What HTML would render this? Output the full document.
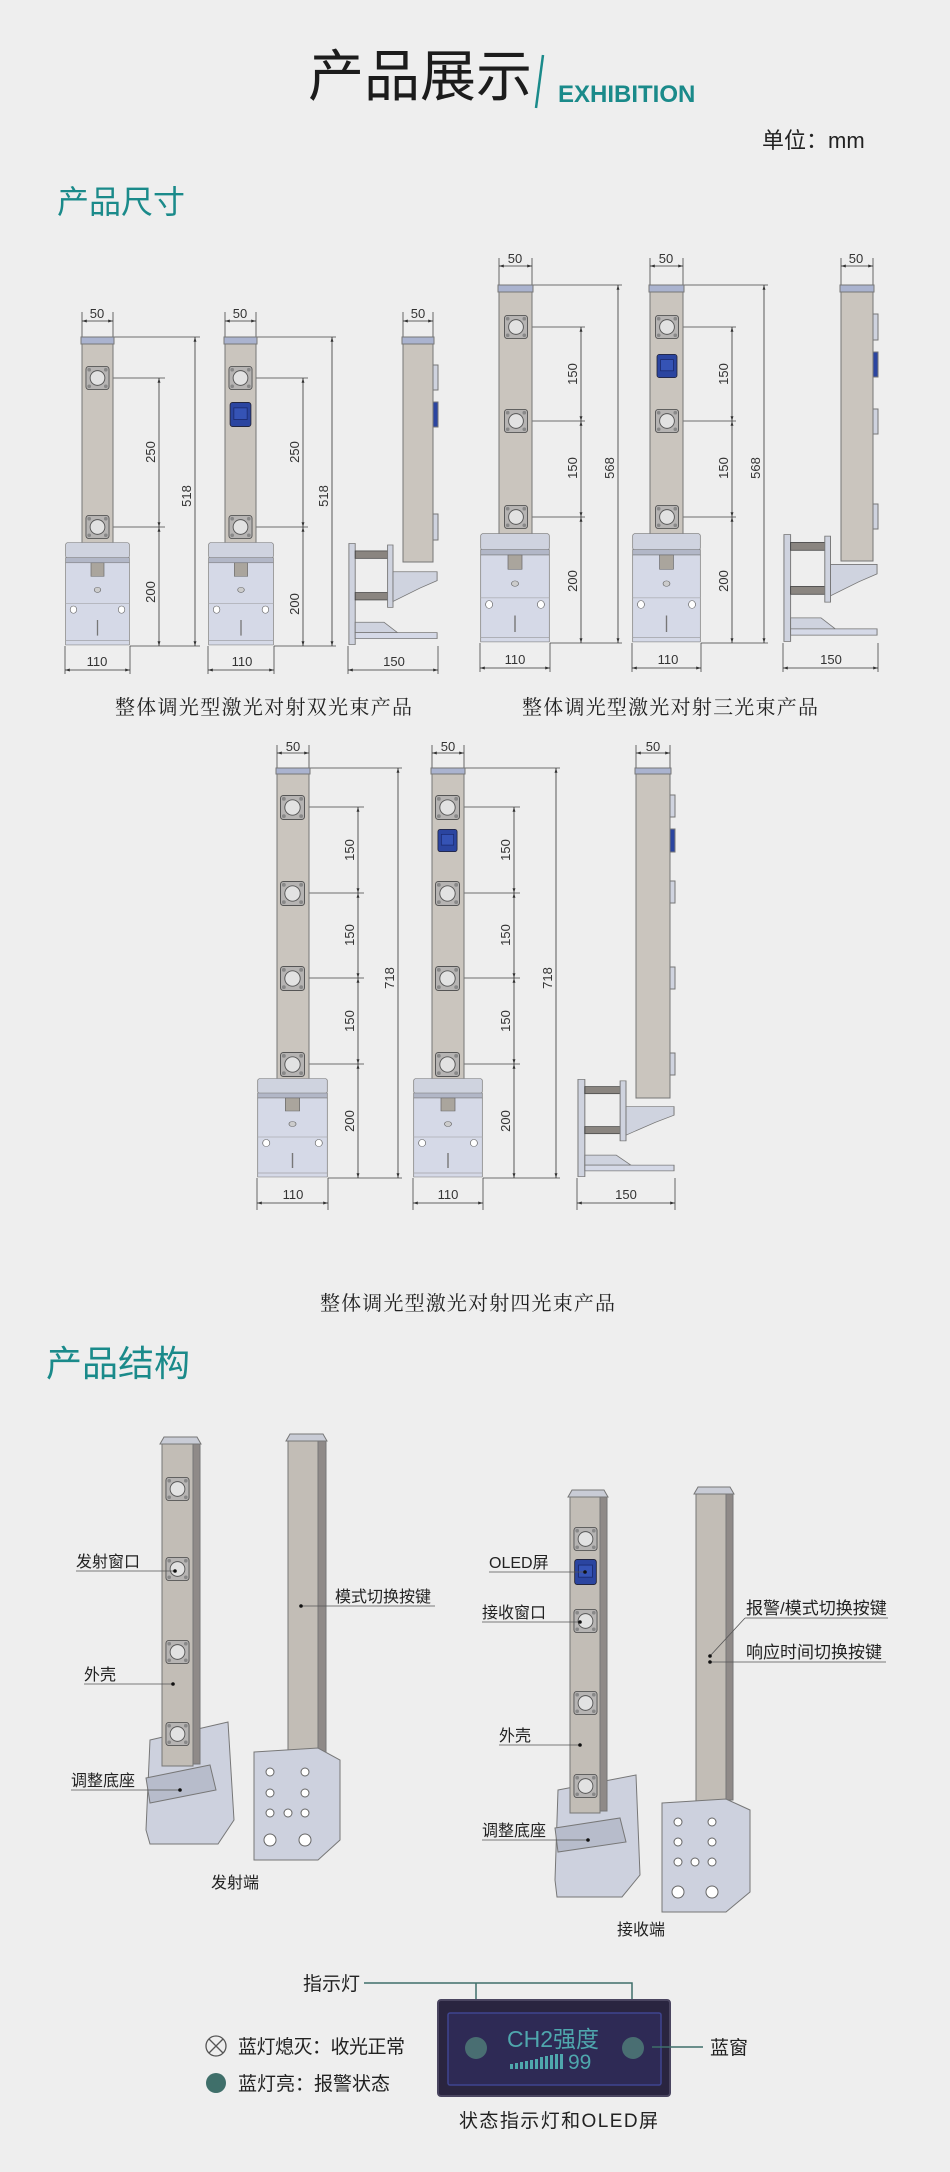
<!DOCTYPE html>
<html><head><meta charset="utf-8"><style>
html,body{margin:0;padding:0;background:#eeeeee;}
svg{display:block;}
text{font-family:"Liberation Sans","Noto Sans CJK SC",sans-serif;}
.d{font-size:13px;fill:#333;}
.cap{font-family:"Liberation Serif","Noto Serif CJK SC",serif;font-size:20px;fill:#222;}
.lb{font-size:16px;fill:#222;}
</style></head><body>
<svg width="950" height="2172" viewBox="0 0 950 2172" xmlns="http://www.w3.org/2000/svg">
<defs>
<symbol id="win" viewBox="0 0 26 26" overflow="visible">
<rect x="0.5" y="0.5" width="25" height="25" rx="3" fill="#b6b4b3" stroke="#555"/>
<circle cx="13" cy="13" r="8" fill="#e2e2e2" stroke="#555"/>
<circle cx="4" cy="4" r="2" fill="#888"/><circle cx="22" cy="4" r="2" fill="#888"/>
<circle cx="4" cy="22" r="2" fill="#888"/><circle cx="22" cy="22" r="2" fill="#888"/>
</symbol>
<symbol id="blue" viewBox="0 0 26 30">
<rect x="0.5" y="0.5" width="25" height="29" rx="3" fill="#2b45a0" stroke="#223"/>
<rect x="5" y="7" width="16" height="14" fill="#3553b5" stroke="#1b2b70"/>
</symbol>
<symbol id="base" viewBox="0 0 100 200" preserveAspectRatio="none">
<rect x="1" y="1" width="98" height="30" rx="4" fill="#cfd3df" stroke="#777"/>
<rect x="1" y="30" width="98" height="10" fill="#b2b7c7" stroke="#777"/>
<rect x="1" y="40" width="98" height="158" fill="#d5d9e7" stroke="#777"/>
<rect x="40" y="40" width="20" height="26" fill="#aaa59d" stroke="#666"/>
<circle cx="50" cy="92" r="5" fill="#ccc" stroke="#666"/>
<line x1="1" y1="118" x2="99" y2="118" stroke="#999"/>
<ellipse cx="13" cy="130" rx="5" ry="7" fill="#fff" stroke="#666"/>
<ellipse cx="87" cy="130" rx="5" ry="7" fill="#fff" stroke="#666"/>
<line x1="50" y1="150" x2="50" y2="180" stroke="#777" stroke-width="2"/>
<line x1="1" y1="190" x2="99" y2="190" stroke="#888"/>
</symbol>
<symbol id="brk" viewBox="0 0 100 140" preserveAspectRatio="none">
<rect x="1" y="2" width="7" height="136" fill="#cfd3df" stroke="#777"/>
<rect x="8" y="12" width="40" height="10" fill="#8a8580" stroke="#444"/>
<rect x="8" y="68" width="40" height="10" fill="#8a8580" stroke="#444"/>
<rect x="44" y="4" width="6" height="84" fill="#cfd3df" stroke="#777"/>
<polygon points="50,40 99,40 99,52 80,62 50,80" fill="#cfd3df" stroke="#777"/>
<polygon points="8,108 40,108 55,122 8,122" fill="#cfd3df" stroke="#777"/>
<rect x="8" y="122" width="91" height="8" fill="#d5d9e7" stroke="#777"/>
</symbol>
<marker id="ar" viewBox="0 0 10 10" refX="10" refY="5" markerWidth="6" markerHeight="6" orient="auto-start-reverse"><path d="M0,2 L10,5 L0,8z" fill="#333"/></marker>
</defs>

<!-- header -->
<text x="308" y="96" font-size="56" fill="#1c1c1c">产品展示</text>
<line x1="543" y1="55" x2="536" y2="108" stroke="#1a8a8a" stroke-width="2.5"/>
<text x="558" y="102" font-size="24" font-weight="bold" fill="#1a8a8a">EXHIBITION</text>
<text x="762" y="148" font-size="22" fill="#222">单位：mm</text>
<text x="57" y="213" font-size="32" fill="#1a8a8a">产品尺寸</text>

<g stroke="#444" stroke-width="0.8" fill="none">
<path d="M82,312V337M113,312V337M65,646V674M130,646V674M113,337H200M113,378H165M113,527H165M130,646H200"/>
<path d="M225,312V337M256,312V337M208,646V674M274,646V674M256,337H336M256,378H308M256,527H308M274,646H336"/>
<path d="M403,312V337M433,312V337M348,646V674M438,646V674"/>
<path d="M499,258V285M532,258V285M480,643V672M550,643V672M532,285H622M532,327H585M532,421H585M532,517H585M550,643H622"/>
<path d="M650,258V285M683,258V285M632,643V672M701,643V672M683,285H768M683,327H736M683,421H736M683,517H736M701,643H768"/>
<path d="M841,258V285M873,258V285M783,643V672M878,643V672"/>
<path d="M277,745V768M309,745V768M257,1178V1210M328,1178V1210M309,768H402M309,807H364M309,893H364M309,978H364M309,1064H364M328,1178H402"/>
<path d="M432,745V768M464,745V768M413,1178V1210M483,1178V1210M464,768H560M464,807H520M464,893H520M464,978H520M464,1064H520M483,1178H560"/>
<path d="M636,745V768M670,745V768M577,1178V1210M675,1178V1210"/>
</g>
<g stroke="#333" stroke-width="0.8" marker-start="url(#ar)" marker-end="url(#ar)">
<line x1="82" y1="321" x2="113" y2="321"/><line x1="65" y1="670" x2="130" y2="670"/>
<line x1="159" y1="378" x2="159" y2="527"/><line x1="159" y1="527" x2="159" y2="646"/><line x1="195" y1="337" x2="195" y2="646"/>
<line x1="225" y1="321" x2="256" y2="321"/><line x1="208" y1="670" x2="274" y2="670"/>
<line x1="303" y1="378" x2="303" y2="527"/><line x1="303" y1="527" x2="303" y2="646"/><line x1="332" y1="337" x2="332" y2="646"/>
<line x1="403" y1="321" x2="433" y2="321"/><line x1="348" y1="670" x2="438" y2="670"/>
<line x1="499" y1="266" x2="532" y2="266"/><line x1="480" y1="668" x2="550" y2="668"/>
<line x1="581" y1="327" x2="581" y2="421"/><line x1="581" y1="421" x2="581" y2="517"/><line x1="581" y1="517" x2="581" y2="643"/><line x1="618" y1="285" x2="618" y2="643"/>
<line x1="650" y1="266" x2="683" y2="266"/><line x1="632" y1="668" x2="701" y2="668"/>
<line x1="732" y1="327" x2="732" y2="421"/><line x1="732" y1="421" x2="732" y2="517"/><line x1="732" y1="517" x2="732" y2="643"/><line x1="764" y1="285" x2="764" y2="643"/>
<line x1="841" y1="266" x2="873" y2="266"/><line x1="783" y1="668" x2="878" y2="668"/>
<line x1="277" y1="753" x2="309" y2="753"/><line x1="257" y1="1203" x2="328" y2="1203"/>
<line x1="358" y1="807" x2="358" y2="893"/><line x1="358" y1="893" x2="358" y2="978"/><line x1="358" y1="978" x2="358" y2="1064"/><line x1="358" y1="1064" x2="358" y2="1178"/><line x1="398" y1="768" x2="398" y2="1178"/>
<line x1="432" y1="753" x2="464" y2="753"/><line x1="413" y1="1203" x2="483" y2="1203"/>
<line x1="514" y1="807" x2="514" y2="893"/><line x1="514" y1="893" x2="514" y2="978"/><line x1="514" y1="978" x2="514" y2="1064"/><line x1="514" y1="1064" x2="514" y2="1178"/><line x1="556" y1="768" x2="556" y2="1178"/>
<line x1="636" y1="753" x2="670" y2="753"/><line x1="577" y1="1203" x2="675" y2="1203"/>
</g>

<g stroke="#777">
<rect x="82" y="337" width="31" height="225" fill="#cac5be"/><rect x="81" y="337" width="33" height="7" fill="#aab3cf"/>
<rect x="225" y="337" width="31" height="225" fill="#cac5be"/><rect x="224" y="337" width="33" height="7" fill="#aab3cf"/>
<rect x="403" y="337" width="30" height="225" fill="#cac5be"/><rect x="402" y="337" width="32" height="7" fill="#aab3cf"/>
<rect x="433" y="365" width="5" height="25" fill="#cfd3df"/><rect x="433" y="402" width="5" height="25" fill="#2b45a0"/><rect x="433" y="514" width="5" height="26" fill="#cfd3df"/>
<rect x="499" y="285" width="33" height="268" fill="#cac5be"/><rect x="498" y="285" width="35" height="7" fill="#aab3cf"/>
<rect x="650" y="285" width="33" height="268" fill="#cac5be"/><rect x="649" y="285" width="35" height="7" fill="#aab3cf"/>
<rect x="841" y="285" width="32" height="276" fill="#cac5be"/><rect x="840" y="285" width="34" height="7" fill="#aab3cf"/>
<rect x="873" y="314" width="5" height="26" fill="#cfd3df"/><rect x="873" y="352" width="5" height="25" fill="#2b45a0"/><rect x="873" y="409" width="5" height="25" fill="#cfd3df"/><rect x="873" y="504" width="5" height="25" fill="#cfd3df"/>
<rect x="277" y="768" width="32" height="312" fill="#cac5be"/><rect x="276" y="768" width="34" height="6" fill="#aab3cf"/>
<rect x="432" y="768" width="32" height="312" fill="#cac5be"/><rect x="431" y="768" width="34" height="6" fill="#aab3cf"/>
<rect x="636" y="768" width="34" height="330" fill="#cac5be"/><rect x="635" y="768" width="36" height="6" fill="#aab3cf"/>
<rect x="670" y="795" width="5" height="22" fill="#cfd3df"/><rect x="670" y="829" width="5" height="23" fill="#2b45a0"/><rect x="670" y="881" width="5" height="22" fill="#cfd3df"/><rect x="670" y="967" width="5" height="22" fill="#cfd3df"/><rect x="670" y="1053" width="5" height="22" fill="#cfd3df"/>
</g>
<use href="#win" x="85" y="366" width="25" height="24"/><use href="#win" x="85" y="515" width="25" height="24"/>
<use href="#win" x="228" y="366" width="25" height="24"/><use href="#win" x="228" y="515" width="25" height="24"/>
<use href="#blue" x="228" y="402" width="25" height="25"/>
<use href="#win" x="503" y="315" width="26" height="24"/><use href="#win" x="503" y="409" width="26" height="24"/><use href="#win" x="503" y="505" width="26" height="24"/>
<use href="#win" x="654" y="315" width="26" height="24"/><use href="#win" x="654" y="409" width="26" height="24"/><use href="#win" x="654" y="505" width="26" height="24"/>
<use href="#blue" x="654" y="354" width="26" height="24"/>
<use href="#win" x="280" y="795" width="25" height="25"/><use href="#win" x="280" y="881" width="25" height="25"/><use href="#win" x="280" y="966" width="25" height="25"/><use href="#win" x="280" y="1052" width="25" height="25"/>
<use href="#win" x="435" y="795" width="25" height="25"/><use href="#win" x="435" y="881" width="25" height="25"/><use href="#win" x="435" y="966" width="25" height="25"/><use href="#win" x="435" y="1052" width="25" height="25"/>
<use href="#blue" x="435" y="829" width="25" height="23"/>
<svg x="65" y="542" width="65" height="104" viewBox="0 0 100 200" preserveAspectRatio="none"><use href="#base"/></svg>
<svg x="208" y="542" width="66" height="104" viewBox="0 0 100 200" preserveAspectRatio="none"><use href="#base"/></svg>
<svg x="348" y="542" width="90" height="104" viewBox="0 0 100 140" preserveAspectRatio="none"><use href="#brk"/></svg>
<svg x="480" y="533" width="70" height="110" viewBox="0 0 100 200" preserveAspectRatio="none"><use href="#base"/></svg>
<svg x="632" y="533" width="69" height="110" viewBox="0 0 100 200" preserveAspectRatio="none"><use href="#base"/></svg>
<svg x="783" y="533" width="95" height="110" viewBox="0 0 100 140" preserveAspectRatio="none"><use href="#brk"/></svg>
<svg x="257" y="1078" width="71" height="100" viewBox="0 0 100 200" preserveAspectRatio="none"><use href="#base"/></svg>
<svg x="413" y="1078" width="70" height="100" viewBox="0 0 100 200" preserveAspectRatio="none"><use href="#base"/></svg>
<svg x="577" y="1078" width="98" height="100" viewBox="0 0 100 140" preserveAspectRatio="none"><use href="#brk"/></svg>

<g class="d" text-anchor="middle">
<text x="97" y="318">50</text><text x="97" y="666">110</text>
<text x="240" y="318">50</text><text x="242" y="666">110</text>
<text x="418" y="318">50</text><text x="394" y="666">150</text>
<text x="515" y="263">50</text><text x="515" y="664">110</text>
<text x="666" y="263">50</text><text x="668" y="664">110</text>
<text x="856" y="263">50</text><text x="831" y="664">150</text>
<text x="293" y="751">50</text><text x="293" y="1199">110</text>
<text x="448" y="751">50</text><text x="448" y="1199">110</text>
<text x="653" y="751">50</text><text x="626" y="1199">150</text>
<text transform="translate(155,452) rotate(-90)">250</text><text transform="translate(155,592) rotate(-90)">200</text><text transform="translate(191,496) rotate(-90)">518</text>
<text transform="translate(299,452) rotate(-90)">250</text><text transform="translate(299,604) rotate(-90)">200</text><text transform="translate(328,496) rotate(-90)">518</text>
<text transform="translate(577,374) rotate(-90)">150</text><text transform="translate(577,468) rotate(-90)">150</text><text transform="translate(577,581) rotate(-90)">200</text><text transform="translate(614,468) rotate(-90)">568</text>
<text transform="translate(728,374) rotate(-90)">150</text><text transform="translate(728,468) rotate(-90)">150</text><text transform="translate(728,581) rotate(-90)">200</text><text transform="translate(760,468) rotate(-90)">568</text>
<text transform="translate(354,850) rotate(-90)">150</text><text transform="translate(354,935) rotate(-90)">150</text><text transform="translate(354,1021) rotate(-90)">150</text><text transform="translate(354,1121) rotate(-90)">200</text><text transform="translate(394,978) rotate(-90)">718</text>
<text transform="translate(510,850) rotate(-90)">150</text><text transform="translate(510,935) rotate(-90)">150</text><text transform="translate(510,1021) rotate(-90)">150</text><text transform="translate(510,1121) rotate(-90)">200</text><text transform="translate(552,978) rotate(-90)">718</text>
</g>
<text class="cap" x="115" y="714" textLength="297">整体调光型激光对射双光束产品</text>
<text class="cap" x="522" y="714" textLength="296">整体调光型激光对射三光束产品</text>
<text class="cap" x="320" y="1310" textLength="295">整体调光型激光对射四光束产品</text>

<!-- structure -->
<text x="46" y="1376" font-size="36" fill="#1a8a8a">产品结构</text>
<g stroke="#777">
<polygon points="150,1740 228,1722 234,1820 218,1844 150,1844 146,1830" fill="#cdd1de"/>
<polygon points="146,1778 210,1765 216,1790 150,1803" fill="#b7bccb"/>
<polygon points="160,1444 201,1444 197,1437 164,1437" fill="#c9ccd6"/><rect x="162" y="1444" width="31" height="322" fill="#c2bdb6"/><rect x="193" y="1444" width="7" height="320" fill="#8f8a88"/>
<polygon points="286,1441 327,1441 323,1434 290,1434" fill="#c9ccd6"/><rect x="288" y="1441" width="30" height="315" fill="#c2bdb6"/><rect x="318" y="1441" width="8" height="313" fill="#8f8a88"/>
<polygon points="254,1752 318,1748 340,1760 340,1840 318,1860 254,1860" fill="#cdd1de"/>
<polygon points="558,1790 636,1775 640,1875 622,1897 557,1897 555,1880" fill="#cdd1de"/>
<polygon points="555,1828 620,1818 626,1842 558,1852" fill="#b7bccb"/>
<polygon points="568,1497 608,1497 604,1490 572,1490" fill="#c9ccd6"/><rect x="570" y="1497" width="30" height="316" fill="#c2bdb6"/><rect x="600" y="1497" width="7" height="314" fill="#8f8a88"/>
<polygon points="694,1494 734,1494 730,1487 698,1487" fill="#c9ccd6"/><rect x="696" y="1494" width="30" height="308" fill="#c2bdb6"/><rect x="726" y="1494" width="7" height="306" fill="#8f8a88"/>
<polygon points="662,1803 726,1799 750,1810 750,1892 726,1912 662,1912" fill="#cdd1de"/>
</g>
<g fill="#fff" stroke="#666">
<circle cx="270" cy="1772" r="4"/><circle cx="305" cy="1772" r="4"/><circle cx="270" cy="1793" r="4"/><circle cx="305" cy="1793" r="4"/><circle cx="270" cy="1813" r="4"/><circle cx="288" cy="1813" r="4"/><circle cx="305" cy="1813" r="4"/><circle cx="270" cy="1840" r="6"/><circle cx="305" cy="1840" r="6"/>
<circle cx="678" cy="1822" r="4"/><circle cx="712" cy="1822" r="4"/><circle cx="678" cy="1842" r="4"/><circle cx="712" cy="1842" r="4"/><circle cx="678" cy="1862" r="4"/><circle cx="695" cy="1862" r="4"/><circle cx="712" cy="1862" r="4"/><circle cx="678" cy="1892" r="6"/><circle cx="712" cy="1892" r="6"/>
</g>
<use href="#win" x="165" y="1477" width="25" height="24"/><use href="#win" x="165" y="1557" width="25" height="24"/><use href="#win" x="165" y="1640" width="25" height="24"/><use href="#win" x="165" y="1722" width="25" height="24"/>
<use href="#win" x="573" y="1527" width="25" height="24"/><use href="#win" x="573" y="1609" width="25" height="24"/><use href="#win" x="573" y="1691" width="25" height="24"/><use href="#win" x="573" y="1774" width="25" height="24"/>
<use href="#blue" x="573" y="1559" width="25" height="26"/>
<g stroke="#555" stroke-width="0.8" fill="none">
<path d="M76,1571H175M84,1684H173M71,1790H180M301,1606H435M489,1572H585M482,1622H580M499,1745H580M482,1840H588M745,1618H888M745,1618L710,1656M710,1662H886"/>
</g>
<g fill="#111"><circle cx="175" cy="1571" r="1.8"/><circle cx="173" cy="1684" r="1.8"/><circle cx="180" cy="1790" r="1.8"/><circle cx="301" cy="1606" r="1.8"/><circle cx="585" cy="1572" r="1.8"/><circle cx="580" cy="1622" r="1.8"/><circle cx="580" cy="1745" r="1.8"/><circle cx="588" cy="1840" r="1.8"/><circle cx="710" cy="1656" r="1.8"/><circle cx="710" cy="1662" r="1.8"/></g>
<g class="lb">
<text x="76" y="1567">发射窗口</text><text x="84" y="1680">外壳</text><text x="71" y="1786">调整底座</text><text x="335" y="1602">模式切换按键</text><text x="211" y="1888">发射端</text>
<text x="489" y="1568">OLED屏</text><text x="482" y="1618">接收窗口</text><text x="499" y="1741">外壳</text><text x="482" y="1836">调整底座</text>
<text x="746" y="1614" font-size="17">报警/模式切换按键</text><text x="746" y="1658" font-size="17">响应时间切换按键</text><text x="617" y="1935">接收端</text>
</g>

<!-- OLED -->
<text x="303" y="1990" font-size="19" fill="#222">指示灯</text>
<path d="M364,1983H632V2046M476,1983V2046" stroke="#3f6f6a" stroke-width="1.5" fill="none"/>
<rect x="438" y="2000" width="232" height="96" rx="3" fill="#2a2540" stroke="#4a4560" stroke-width="2"/>
<rect x="448" y="2013" width="213" height="72" rx="2" fill="#2e2a55" stroke="#3f4590" stroke-width="1.5"/>
<circle cx="476" cy="2048" r="11" fill="#4e7a78" opacity="0.85"/><circle cx="633" cy="2048" r="11" fill="#4e7a78" opacity="0.85"/>
<text x="553" y="2047" font-size="23" fill="#4fa7ad" text-anchor="middle">CH2强度</text>
<g fill="#4fa7ad"><rect x="510" y="2064" width="3" height="5"/><rect x="515" y="2063" width="3" height="6"/><rect x="520" y="2062" width="3" height="7"/><rect x="525" y="2061" width="3" height="8"/><rect x="530" y="2060" width="3" height="9"/><rect x="535" y="2059" width="3" height="10"/><rect x="540" y="2057" width="3" height="12"/><rect x="545" y="2056" width="3" height="13"/><rect x="550" y="2055" width="3" height="14"/><rect x="555" y="2054" width="3" height="15"/><rect x="560" y="2054" width="3" height="15"/></g>
<text x="568" y="2069" font-size="21" fill="#4fa7ad">99</text>
<line x1="652" y1="2047" x2="703" y2="2047" stroke="#3f6f6a" stroke-width="1.5"/>
<text x="710" y="2054" font-size="19" fill="#222">蓝窗</text>
<circle cx="216" cy="2046" r="10" fill="none" stroke="#555" stroke-width="1.3"/>
<path d="M209,2039L223,2053M223,2039L209,2053" stroke="#555" stroke-width="1.3"/>
<text x="238" y="2053" font-size="19" fill="#222" textLength="167">蓝灯熄灭：收光正常</text>
<circle cx="216" cy="2083" r="10" fill="#3f6f6a"/>
<text x="238" y="2090" font-size="19" fill="#222">蓝灯亮：报警状态</text>
<text x="459" y="2127" font-size="19" fill="#222" textLength="199">状态指示灯和OLED屏</text>
</svg>
</body></html>
